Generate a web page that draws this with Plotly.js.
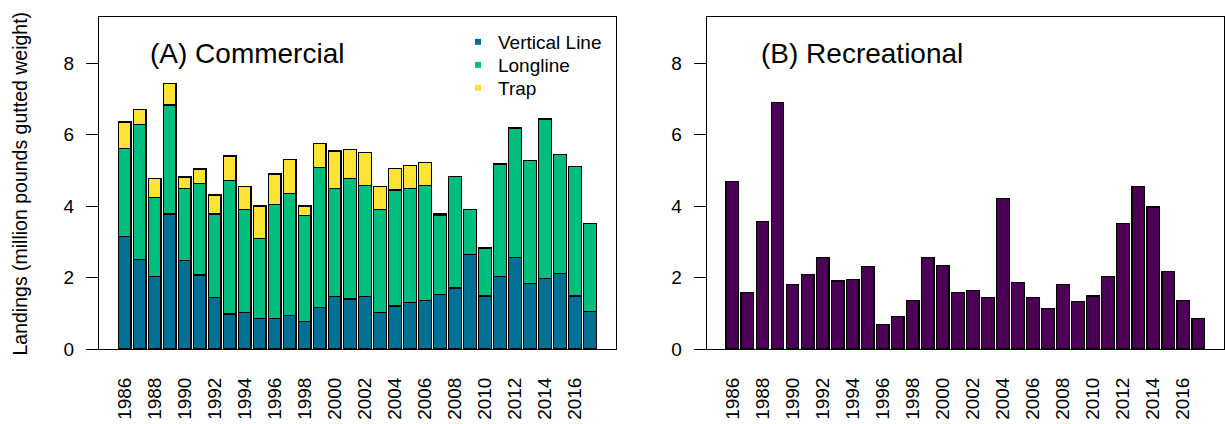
<!DOCTYPE html>
<html>
<head>
<meta charset="utf-8">
<script src="https://cdn.plot.ly/plotly-3.0.1.min.js"></script>
<style>
html,body{margin:0;padding:0;background:#fff;}
#chart{width:1225px;height:424px;}
</style>
</head>
<body>
<div id="chart"></div>
<script>
const years = [1986,1987,1988,1989,1990,1991,1992,1993,1994,1995,1996,1997,1998,1999,2000,2001,
               2002,2003,2004,2005,2006,2007,2008,2009,2010,2011,2012,2013,2014,2015,2016,2017];
const verticalLine = [3.15,2.51,2.03,3.78,2.47,2.07,1.44,0.98,1.03,0.85,0.85,0.93,0.76,1.17,1.47,1.40,
                      1.47,1.03,1.20,1.30,1.35,1.53,1.71,2.65,1.48,2.03,2.57,1.84,1.98,2.12,1.48,1.04];
const longline = [2.47,3.78,2.20,3.05,2.03,2.56,2.34,3.73,2.88,2.25,3.20,3.43,2.97,3.91,3.03,3.38,
                  3.11,2.88,3.25,3.20,3.23,2.20,3.12,1.26,1.35,3.15,3.61,3.43,4.46,3.33,3.62,2.48];
const trap = [0.73,0.41,0.54,0.59,0.31,0.41,0.53,0.69,0.64,0.90,0.85,0.95,0.27,0.68,1.04,0.81,
              0.92,0.64,0.60,0.63,0.64,0.05,0,0,0,0,0,0,0,0,0,0];
const recreational = [4.69,1.59,3.57,6.90,1.81,2.08,2.57,1.90,1.94,2.30,0.68,0.90,1.35,2.57,2.34,1.58,
                      1.63,1.45,4.21,1.86,1.45,1.13,1.80,1.32,1.48,2.03,3.52,4.55,3.97,2.17,1.35,0.86];
const tickYears = [1986,1988,1990,1992,1994,1996,1998,2000,2002,2004,2006,2008,2010,2012,2014,2016];
const seriesNames = ['Vertical Line','Longline','Trap'];
const colors = {vl:'#007094', ll:'#00BE7D', trap:'#FDE333', rec:'#4B0055'};

const FONT = 'Liberation Sans, Arial, sans-serif';
const barLine = {color:'#000', width:1.3};

const traces = [
  {type:'bar', x:years, y:verticalLine, xaxis:'x', yaxis:'y', marker:{color:colors.vl, line:barLine}, showlegend:false, name:seriesNames[0]},
  {type:'bar', x:years, y:longline, xaxis:'x', yaxis:'y', marker:{color:colors.ll, line:barLine}, showlegend:false, name:seriesNames[1]},
  {type:'bar', x:years, y:trap, xaxis:'x', yaxis:'y', marker:{color:colors.trap, line:barLine}, showlegend:false, name:seriesNames[2]},
  {type:'bar', x:years, y:recreational, xaxis:'x2', yaxis:'y2', marker:{color:colors.rec, line:barLine}, showlegend:false, name:'Recreational'},
  // legend entries (one legend box per entry for exact row spacing)
  {type:'scatter', mode:'markers', x:[null], y:[null], xaxis:'x', yaxis:'y', name:seriesNames[0], legend:'legend', marker:{symbol:'square', size:6, color:colors.vl}},
  {type:'scatter', mode:'markers', x:[null], y:[null], xaxis:'x', yaxis:'y', name:seriesNames[1], legend:'legend2', marker:{symbol:'square', size:6, color:colors.ll}},
  {type:'scatter', mode:'markers', x:[null], y:[null], xaxis:'x', yaxis:'y', name:seriesNames[2], legend:'legend3', marker:{symbol:'square', size:6, color:colors.trap}}
];

const xRange = [1986-1.71, 2017+1.71];
const yRange = [0, 9.29];
const xCommon = {
  range:xRange, tickvals:tickYears, ticktext:tickYears.map(String), tickangle:-90,
  ticks:'', showgrid:false, zeroline:false, showline:true, mirror:true, linecolor:'#000', linewidth:1,
  tickfont:{family:FONT, size:19, color:'#000'}, ticklabelstandoff:20, fixedrange:true
};
const yCommon = {
  range:yRange, tickvals:[0,2,4,6,8], ticks:'outside', ticklen:12, tickwidth:1, tickcolor:'#000',
  showgrid:false, zeroline:false, showline:true, mirror:true, linecolor:'#000', linewidth:1,
  tickfont:{family:FONT, size:19, color:'#000'}, ticklabelstandoff:8, fixedrange:true
};
const legendBase = {x:0.3191, xanchor:'left', yanchor:'top', bgcolor:'rgba(0,0,0,0)',
  font:{family:FONT, size:19, color:'#000'}, itemclick:false};

const layout = {
  width:1225, height:424,
  margin:{l:99, r:1, t:17, b:75, autoexpand:false},
  paper_bgcolor:'#fff', plot_bgcolor:'#fff',
  barmode:'stack', bargap:0.16,
  font:{family:FONT, color:'#000'},
  xaxis:Object.assign({}, xCommon, {domain:[0,0.4593], anchor:'y'}),
  yaxis:Object.assign({}, yCommon, {domain:[0,1], anchor:'x'}),
  xaxis2:Object.assign({}, xCommon, {domain:[0.5402,1], anchor:'y2'}),
  yaxis2:Object.assign({}, yCommon, {domain:[0,1], anchor:'x2'}),
  showlegend:true,
  legend:Object.assign({}, legendBase, {y:0.9819}),
  legend2:Object.assign({}, legendBase, {y:0.9127}),
  legend3:Object.assign({}, legendBase, {y:0.8434}),
  annotations:[
    {text:'(A) Commercial', xref:'paper', yref:'paper', x:0.0435, y:0.8886, xanchor:'left', yanchor:'middle',
     showarrow:false, font:{family:FONT, size:28, color:'#000'}},
    {text:'(B) Recreational', xref:'paper', yref:'paper', x:0.5864, y:0.8886, xanchor:'left', yanchor:'middle',
     showarrow:false, font:{family:FONT, size:28, color:'#000'}},
    {text:'Landings (million pounds gutted weight)', xref:'paper', yref:'paper', x:-0.0702, y:0.4985,
     xanchor:'center', yanchor:'middle', textangle:-90, showarrow:false, font:{family:FONT, size:19.5, color:'#000'}}
  ]
};

Plotly.newPlot('chart', traces, layout, {staticPlot:true, displayModeBar:false});
</script>
</body>
</html>
